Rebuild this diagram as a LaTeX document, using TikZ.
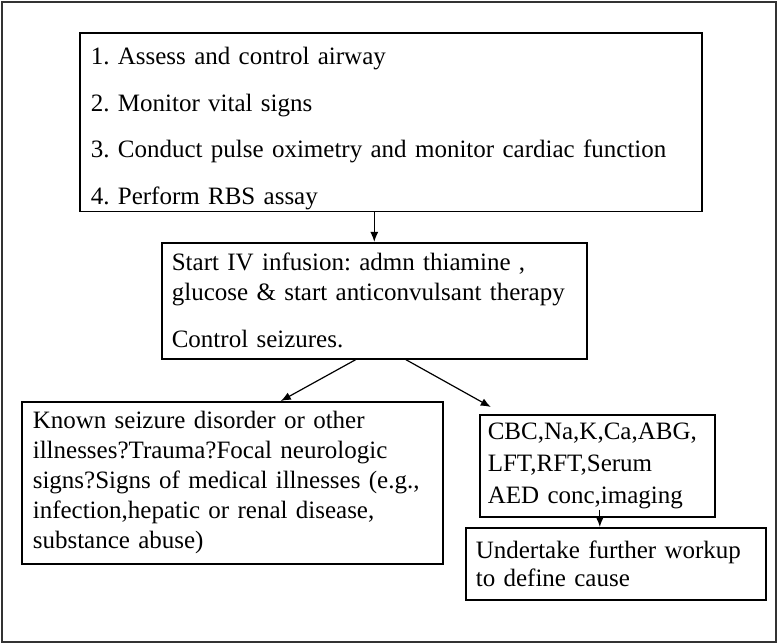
\documentclass[tikz,border=0pt]{standalone}
\usepackage{fontspec}
\setmainfont{Liberation Serif}
\usetikzlibrary{arrows.meta}
\frenchspacing

\begin{document}
\begin{tikzpicture}[x=1pt,y=-1pt,>={Latex[length=10pt,width=8pt]},
  box/.style={draw,rectangle,line width=1.6pt,anchor=north west,align=left,font=\fontsize{25}{30}\selectfont}]
\useasboundingbox (0,0) rectangle (780,644);
\draw[line width=1.4pt,black!80] (2,2) rectangle (776,642);
\node[box,minimum width=622pt,minimum height=177pt,inner xsep=11pt,inner ysep=2pt,text width=600pt] (assess) at (79,32)
  {\rule{0pt}{30pt}1. Assess and control airway\\[16.5pt]2. Monitor vital signs\\[16.5pt]3. Conduct pulse oximetry and monitor cardiac function\\[16.5pt]4. Perform RBS assay};
\node[box,minimum width=425pt,minimum height=116pt,inner xsep=10pt,text width=405pt] (infuse) at (161,242)
  {Start IV infusion: admn thiamine ,\\glucose \& start anticonvulsant therapy\\[17pt]Control seizures.};
\node[box,minimum width=421pt,minimum height=162pt,inner xsep=11pt,text width=399pt] (history) at (21,401)
  {Known seizure disorder or other\\illnesses?Trauma?Focal neurologic\\signs?Signs of medical illnesses (e.g.,\\infection,hepatic or renal disease,\\substance abuse)};
\node[box,minimum width=235pt,minimum height=102pt,inner xsep=8pt,text width=219pt] (labs) at (479,414)
  {CBC,Na,K,Ca,ABG,\\[2pt]LFT,RFT,Serum\\[2pt]AED conc,imaging};
\node[box,minimum width=300pt,minimum height=72pt,inner xsep=10pt,text width=280pt] (workup) at (465,527)
  {Undertake further workup\\[-2pt]to define cause};
\draw[->,line width=1.5pt] (infuse.north |- assess.south) -- (infuse.north);
\draw[->,line width=1.2pt] ([xshift=-18.5pt]infuse.south) -- ([xshift=48.5pt]history.north);
\draw[->,line width=1.2pt] ([xshift=31.5pt]infuse.south) -- ([xshift=-106.5pt,yshift=7pt]labs.north);
\draw[->,line width=1.2pt] ([xshift=2.5pt,yshift=8pt]labs.south) -- ([xshift=2.5pt]labs.south |- workup.north);
\end{tikzpicture}
\end{document}
